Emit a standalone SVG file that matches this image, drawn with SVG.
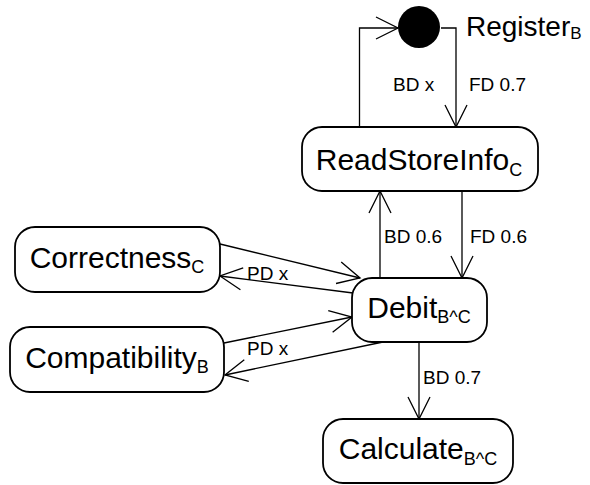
<svg xmlns="http://www.w3.org/2000/svg" width="590" height="485" viewBox="0 0 590 485">
  <style>
    .node { fill: #ffffff; stroke: #000000; stroke-width: 1.8; }
    .name { font-family: "Liberation Sans", Arial, sans-serif; font-size: 30px; fill: #000000; }
    .sub { font-size: 18px; }
    .edge { fill: none; stroke: #000000; stroke-width: 1.3; marker-end: url(#open); }
    .lbl { font-family: "Liberation Sans", Arial, sans-serif; font-size: 19px; fill: #000000; }
  </style>
  <defs>
    <!-- open V arrowhead, tip at the path end -->
    <marker id="open" markerUnits="userSpaceOnUse" markerWidth="26" markerHeight="26" refX="0" refY="0" viewBox="-24 -13 26 26" orient="auto" overflow="visible">
      <path d="M -22 -11 L 0 0 L -22 11" fill="none" stroke="#000000" stroke-width="1.3"/>
    </marker>
  </defs>
  <rect width="590" height="485" fill="#ffffff"/>

  <g id="connectors">
    <path class="edge" d="M 359.5 127 L 359.5 28 L 398 28"/>
    <path class="edge" d="M 441 28 L 456 28 L 456 127"/>
    <path class="edge" d="M 380 278 L 380 191"/>
    <path class="edge" d="M 462 191 L 462 278"/>
    <path class="edge" d="M 419 342 L 419 419"/>
    <path class="edge" d="M 220 244 L 360 278"/>
    <path class="edge" d="M 353 293 L 220 276"/>
    <path class="edge" d="M 224 343 L 352 317"/>
    <path class="edge" d="M 383 342 L 225 375"/>
    <text class="lbl" x="393" y="91">BD x</text>
    <text class="lbl" x="469" y="91">FD 0.7</text>
    <text class="lbl" x="384" y="243">BD 0.6</text>
    <text class="lbl" x="470" y="243">FD 0.6</text>
    <text class="lbl" x="423" y="384">BD 0.7</text>
    <text class="lbl" x="247" y="280">PD x</text>
    <text class="lbl" x="247" y="355">PD x</text>
  </g>

  <g id="register">
    <circle cx="419" cy="27" r="21" fill="#000000"/>
    <text class="name" style="font-size:28px" x="466" y="36">Register<tspan style="font-size:17px" dy="3">B</tspan></text>
  </g>

  <g id="readstoreinfo">
    <rect class="node" x="302" y="127" width="236" height="64" rx="20"/>
    <text class="name" x="419" y="170" text-anchor="middle">ReadStoreInfo<tspan class="sub" dy="6">C</tspan></text>
  </g>

  <g id="correctness">
    <rect class="node" x="15" y="227" width="205" height="65" rx="20"/>
    <text class="name" x="117" y="268" text-anchor="middle">Correctness<tspan class="sub" dy="5">C</tspan></text>
  </g>

  <g id="debit">
    <rect class="node" x="352" y="278" width="135" height="64" rx="20"/>
    <text class="name" x="419" y="318" text-anchor="middle">Debit<tspan class="sub" dy="5">B^C</tspan></text>
  </g>

  <g id="compatibility">
    <rect class="node" x="10" y="327" width="214" height="65" rx="20"/>
    <text class="name" x="117" y="368" text-anchor="middle">Compatibility<tspan class="sub" dy="5">B</tspan></text>
  </g>

  <g id="calculate">
    <rect class="node" x="323" y="419" width="190" height="64" rx="20"/>
    <text class="name" x="418" y="459" text-anchor="middle">Calculate<tspan class="sub" dy="6">B^C</tspan></text>
  </g>
</svg>
